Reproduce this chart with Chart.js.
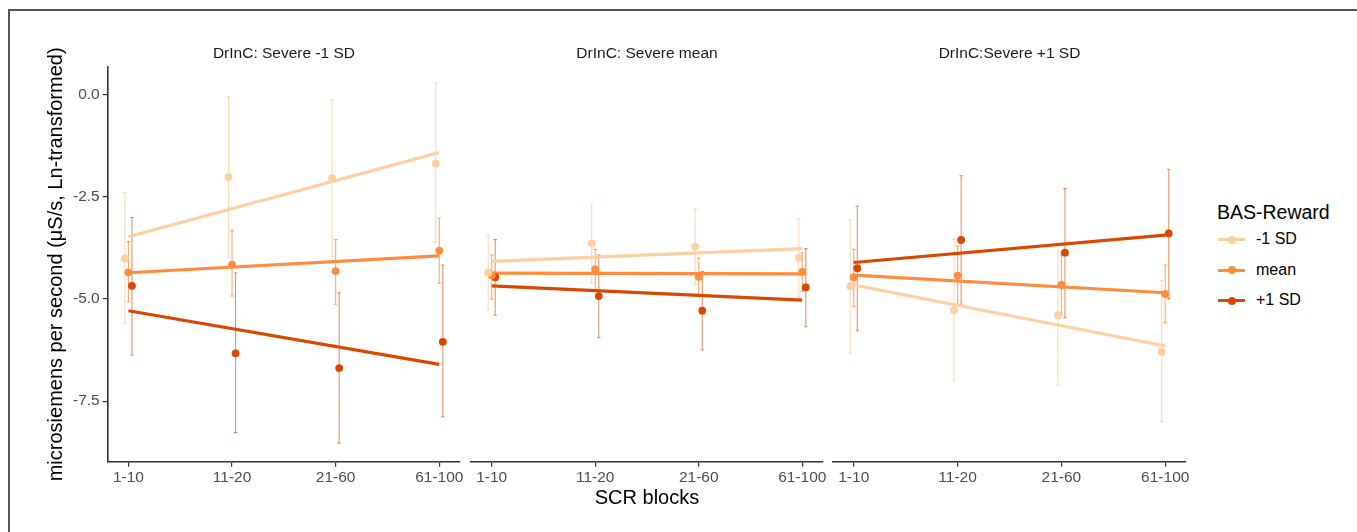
<!DOCTYPE html>
<html>
<head>
<meta charset="utf-8">
<script src="https://cdn.jsdelivr.net/npm/chart.js@4"></script>
<style>
  body { margin: 0; background: #fff; font-family: 'Liberation Sans', Arial, sans-serif; }
  #wrap { position: relative; width: 1357px; height: 532px; overflow: hidden; }
  #frame { position: absolute; left: 8px; top: 9px; width: 1400px; height: 600px;
           border-top: 2px solid #555; border-left: 2px solid #555; }
  canvas { position: absolute; top: 0; }
  .strip { position: absolute; top: 43px; height: 20px; line-height: 20px; text-align: center;
           font-size: 15.5px; color: #1a1a1a; }
  #legend { position: absolute; left: 1217px; top: 199px; }
  #legend .ttl { font-size: 19.5px; line-height: 26px; color: #000; }
  #legend .row { position: relative; height: 30.5px; }
  #legend .key { position: absolute; left: 1px; top: 13px; width: 27px; height: 3px; }
  #legend .dot { position: absolute; left: 10.5px; top: 10.5px; width: 8px; height: 8px; border-radius: 50%; }
  #legend .lab { position: absolute; left: 39px; top: 4px; font-size: 16px; line-height: 20px; color: #000; }
</style>
</head>
<body>
<div id="wrap">
  <div id="frame"></div>
  <canvas id="p0" width="470" height="532" style="left:0px"></canvas>
  <canvas id="p1" width="372" height="532" style="left:461px"></canvas>
  <canvas id="p2" width="373" height="532" style="left:823px"></canvas>
  <div class="strip" style="left:108px;width:352px">DrInC: Severe -1 SD</div>
  <div class="strip" style="left:471px;width:352px">DrInC: Severe mean</div>
  <div class="strip" style="left:833px;width:353px">DrInC:Severe +1 SD</div>
  <div id="legend"></div>
</div>
<script>
const categories = ['1-10', '11-20', '21-60', '61-100'];
const panelTitles = ['DrInC: Severe -1 SD', 'DrInC: Severe mean', 'DrInC:Severe +1 SD'];
const seriesNames = ['-1 SD', 'mean', '+1 SD'];
const yTicks = [-7.5, -5.0, -2.5, 0.0];

// BAS-Reward -1 SD, one row per panel
const lowPts = [[-4.01, -2.02, -2.05, -1.69], [-4.36, -3.64, -3.72, -3.99], [-4.69, -5.27, -5.40, -6.29]];
const lowHi  = [[-2.40, -0.06, -0.14, 0.27], [-3.44, -2.69, -2.79, -3.05], [-3.07, -3.54, -3.69, -4.55]];
const lowLo  = [[-5.60, -3.98, -3.97, -3.62], [-5.26, -4.62, -4.65, -4.95], [-6.33, -7.00, -7.11, -8.00]];
const lowFit = [[-3.48, -1.42], [-4.08, -3.77], [-4.66, -6.15]];

// BAS-Reward mean
const midPts = [[-4.35, -4.16, -4.32, -3.82], [-4.42, -4.28, -4.46, -4.34], [-4.47, -4.43, -4.66, -4.88]];
const midHi  = [[-3.60, -3.33, -3.55, -3.02], [-3.93, -3.79, -4.01, -3.87], [-3.79, -3.71, -3.92, -4.17]];
const midLo  = [[-5.07, -4.93, -5.13, -4.62], [-5.00, -4.77, -4.91, -4.81], [-5.19, -5.15, -5.40, -5.58]];
const midFit = [[-4.36, -3.95], [-4.37, -4.39], [-4.42, -4.85]];

// BAS-Reward +1 SD
const highPts = [[-4.68, -6.33, -6.69, -6.05], [-4.47, -4.93, -5.29, -4.72], [-4.25, -3.56, -3.87, -3.40]];
const highHi  = [[-3.01, -4.36, -4.85, -4.17], [-3.55, -3.93, -4.33, -3.77], [-2.73, -1.99, -2.30, -1.83]];
const highLo  = [[-6.37, -8.27, -8.53, -7.88], [-5.40, -5.95, -6.25, -5.68], [-5.78, -5.13, -5.46, -5.00]];
const highFit = [[-5.29, -6.60], [-4.68, -5.03], [-4.11, -3.44]];

const colors = ['#fdd0a2', '#fd8d3c', '#d94801'];
const barColors = ['rgba(253,208,162,0.8)', 'rgba(253,141,60,0.75)', 'rgba(217,72,1,0.6)'];
const dodge = [-0.034, 0, 0.034];

const series = [
    { pts: lowPts, hi: lowHi, lo: lowLo, fit: lowFit },
    { pts: midPts, hi: midHi, lo: midLo, fit: midFit },
    { pts: highPts, hi: highHi, lo: highLo, fit: highFit },
];

function buildDatasets(p) {
    const points = [], lines = [], bars = [];
    series.forEach((s, k) => {
        points.push({
            type: 'scatter',
            label: seriesNames[k],
            data: s.pts[p].map((v, i) => ({ x: i + 1 + dodge[k], y: v })),
            backgroundColor: colors[k],
            borderWidth: 0,
            pointRadius: 3.9,
            order: 1
        });
        lines.push({
            type: 'line',
            label: seriesNames[k] + ' fit',
            data: [{ x: 1, y: s.fit[p][0] }, { x: categories.length, y: s.fit[p][1] }],
            borderColor: colors[k],
            borderWidth: 3.2,
            pointRadius: 0,
            order: 2
        });
        const eb = [];
        s.pts[p].forEach((v, i) => {
            const x = i + 1 + dodge[k];
            eb.push({ x: x, y: s.lo[p][i] }, { x: x, y: s.hi[p][i] }, { x: x, y: null });
        });
        bars.push({
            type: 'line',
            label: seriesNames[k] + ' CI',
            data: eb,
            spanGaps: false,
            borderColor: barColors[k],
            borderWidth: 1.1,
            pointStyle: 'line',
            pointRadius: 1.8,
            pointBorderWidth: 1.1,
            pointBorderColor: barColors[k],
            order: 3
        });
    });
    return points.concat(lines, bars);
}

const fontTick = { family: "'Liberation Sans', Arial, sans-serif", size: 15.5 };
const fontTitle = { family: "'Liberation Sans', Arial, sans-serif", size: 20 };

const layouts = [
    { padL: 44, padR: 10, yShow: true },
    { padL: 10, padR: 10, yShow: false },
    { padL: 10, padR: 10, yShow: false },
];

panelTitles.forEach((t, p) => {
    const lay = layouts[p];
    new Chart(document.getElementById('p' + p).getContext('2d'), {
        data: { datasets: buildDatasets(p) },
        options: {
            responsive: false,
            animation: false,
            devicePixelRatio: 1,
            layout: { padding: { top: 67, bottom: 20.3, left: lay.padL, right: lay.padR } },
            plugins: { legend: { display: false }, tooltip: { enabled: false } },
            scales: {
                x: {
                    type: 'linear',
                    min: 0.8,
                    max: categories.length + 0.2,
                    afterBuildTicks: (scale) => {
                        scale.ticks = categories.map((c, i) => ({ value: i + 1 }));
                    },
                    afterFit: (scale) => {
                        scale.height = 50;
                        scale.paddingLeft = 0;
                        scale.paddingRight = 0;
                    },
                    ticks: {
                        color: '#4d4d4d',
                        font: fontTick,
                        padding: 2,
                        maxRotation: 0,
                        autoSkip: false,
                        callback: (v) => categories[Math.round(v) - 1]
                    },
                    grid: { drawOnChartArea: false, color: '#333', lineWidth: 1.2, tickLength: 5 },
                    border: { display: true, color: '#333', width: 1.6 },
                    title: {
                        display: p === 1,
                        text: 'SCR blocks',
                        color: '#000',
                        font: fontTitle,
                        padding: { top: 0, bottom: 1 }
                    }
                },
                y: {
                    type: 'linear',
                    display: lay.yShow,
                    min: -8.98,
                    max: 0.67,
                    afterBuildTicks: (scale) => {
                        scale.ticks = yTicks.map(v => ({ value: v }));
                    },
                    afterFit: (scale) => {
                        if (lay.yShow) scale.width = 63.7;
                        scale.paddingTop = 0;
                        scale.paddingBottom = 0;
                    },
                    ticks: {
                        color: '#4d4d4d',
                        font: fontTick,
                        padding: 3,
                        callback: (v) => v.toFixed(1)
                    },
                    grid: { drawOnChartArea: false, color: '#333', lineWidth: 1.2, tickLength: 5 },
                    border: { display: true, color: '#333', width: 1.6 },
                    title: {
                        display: p === 0,
                        text: 'microsiemens per second (μS/s, Ln-transformed)',
                        color: '#000',
                        font: fontTitle,
                        padding: { top: 0, bottom: 0 }
                    }
                }
            }
        }
    });
});

// legend: BAS-Reward
const legend = document.getElementById('legend');
let html = '<div class="ttl">BAS-Reward</div>';
seriesNames.forEach((n, k) => {
    html += '<div class="row"><div class="key" style="background:' + colors[k] + '"></div>' +
            '<div class="dot" style="background:' + colors[k] + '"></div>' +
            '<div class="lab">' + n + '</div></div>';
});
legend.innerHTML = html;
</script>
</body>
</html>
